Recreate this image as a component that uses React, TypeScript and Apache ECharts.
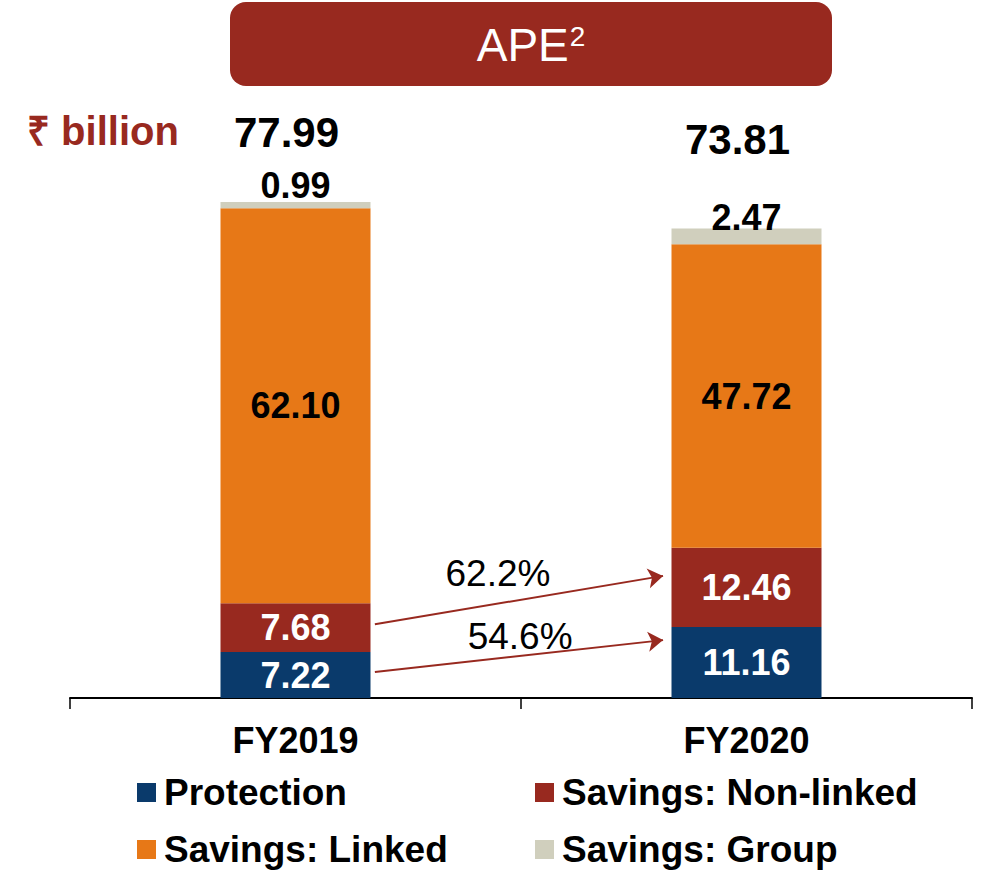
import React, { useEffect, useRef } from "react";
import * as echarts from "echarts";

const categories = ["FY2019", "FY2020"];
const protection = [7.22, 11.16];
const nonLinked = [7.68, 12.46];
const linked = [62.1, 47.72];
const group = [0.99, 2.47];
const totals = [77.99, 73.81];
const growthLabels = ["62.2%", "54.6%"];
// arrow annotations in (category position, value) space
const arrowNonLinked = [[0.176, 11.6], [0.815, 19.2]];
const arrowProtection = [[0.176, 4.1], [0.815, 9.1]];
const growthLabelPos = [[0.449, 19.65], [0.498, 9.6]];

const FONT = "'Liberation Sans', Arial, sans-serif";
const C_BLUE = "#0A3A6B";
const C_RED = "#98291F";
const C_ORANGE = "#E77817";
const C_GRAY = "#D0CFBD";

export default function App() {
  const ref = useRef<HTMLDivElement>(null);
  useEffect(() => {
    if (!ref.current) return;
    const chart = echarts.init(ref.current, null, { renderer: "svg" });
    const segLabel = (color: string) => ({
      show: true,
      position: "inside",
      color,
      fontSize: 36,
      fontWeight: "bold",
      fontFamily: FONT,
      formatter: (p: any) => Number(p.value).toFixed(2),
    });
    const legendBase = {
      orient: "vertical",
      top: 774,
      padding: 0,
      itemWidth: 19,
      itemHeight: 19,
      itemGap: 20,
      icon: "rect",
      selectedMode: false,
      textStyle: {
        fontSize: 37,
        fontWeight: "bold",
        color: "#000",
        fontFamily: FONT,
        lineHeight: 36,
        padding: [0, 0, 0, 3],
      },
    };
    chart.setOption({
      animation: false,
      textStyle: { fontFamily: FONT },
      grid: { left: 70, right: 10, top: 62, bottom: 172 },
      xAxis: [
        {
          type: "category",
          data: categories,
          axisLine: { lineStyle: { color: "#000", width: 2 } },
          axisTick: { show: true, length: 11, lineStyle: { color: "#000", width: 1.5 } },
          axisLabel: {
            margin: 24,
            fontSize: 36,
            fontWeight: "bold",
            color: "#000",
            fontFamily: FONT,
          },
        },
        { type: "value", min: -0.5, max: 1.5, show: false },
      ],
      yAxis: { type: "value", min: 0, max: 100, show: false },
      legend: [
        { ...legendBase, left: 137, data: ["Protection", "Savings: Linked"] },
        { ...legendBase, left: 535, data: ["Savings: Non-linked", "Savings: Group"] },
      ],
      series: [
        {
          name: "Protection",
          type: "bar",
          stack: "a",
          barWidth: 150,
          data: protection,
          itemStyle: { color: C_BLUE },
          label: segLabel("#fff"),
        },
        {
          name: "Savings: Non-linked",
          type: "bar",
          stack: "a",
          barWidth: 150,
          data: nonLinked,
          itemStyle: { color: C_RED },
          label: segLabel("#fff"),
        },
        {
          name: "Savings: Linked",
          type: "bar",
          stack: "a",
          barWidth: 150,
          data: linked,
          itemStyle: { color: C_ORANGE },
          label: segLabel("#000"),
        },
        {
          name: "Savings: Group",
          type: "bar",
          stack: "a",
          barWidth: 150,
          data: group.map((v, i) => ({
            value: v,
            label: { distance: i === 0 ? -2 : -7 },
          })),
          itemStyle: { color: C_GRAY },
          label: { ...segLabel("#000"), position: "top" },
        },
        {
          name: "Total",
          type: "bar",
          stack: "a",
          barWidth: 150,
          data: totals.map((t, i) => ({
            value: 0,
            label: { distance: i === 0 ? 48 : 68, formatter: t.toFixed(2) },
          })),
          itemStyle: { color: "transparent" },
          label: {
            show: true,
            position: "top",
            offset: [-9, 0],
            fontSize: 42,
            fontWeight: "bold",
            color: "#000",
            fontFamily: FONT,
          },
        },
        {
          type: "lines",
          coordinateSystem: "cartesian2d",
          xAxisIndex: 1,
          symbol: ["none", "arrow"],
          symbolSize: 15,
          lineStyle: { color: C_RED, width: 2, opacity: 1 },
          data: [{ coords: arrowNonLinked }, { coords: arrowProtection }],
          silent: true,
          z: 5,
        },
        {
          type: "scatter",
          xAxisIndex: 1,
          symbolSize: 0,
          itemStyle: { opacity: 1 },
          data: growthLabelPos.map((c, i) => ({ value: c, name: growthLabels[i] })),
          label: {
            show: true,
            position: "inside",
            formatter: (p: any) => p.name,
            fontSize: 37,
            color: "#000",
            opacity: 1,
            textBorderWidth: 0,
            fontFamily: FONT,
          },
          silent: true,
        },
      ],
      graphic: [
        {
          type: "rect",
          left: 230,
          top: 2,
          shape: { width: 602, height: 84, r: 16 },
          style: { fill: C_RED },
        },
        {
          type: "text",
          x: 531,
          y: 45,
          style: {
            text: "{a|APE}{s|2}",
            align: "center",
            verticalAlign: "middle",
            fill: "#fff",
            rich: {
              a: { fontSize: 46, fill: "#fff", fontFamily: FONT },
              s: { fontSize: 28, fill: "#fff", fontFamily: FONT, padding: [0, 0, 18, 1] },
            },
          },
        },
        {
          type: "text",
          left: 27,
          top: 111,
          style: {
            text: "₹ billion",
            fontSize: 40,
            fontWeight: "bold",
            fill: C_RED,
            fontFamily: FONT,
          },
        },
      ],
    });
    return () => chart.dispose();
  }, []);
  return (
    <div
      ref={ref}
      style={{ position: "absolute", left: 0, top: 0, width: 982, height: 870 }}
    />
  );
}
